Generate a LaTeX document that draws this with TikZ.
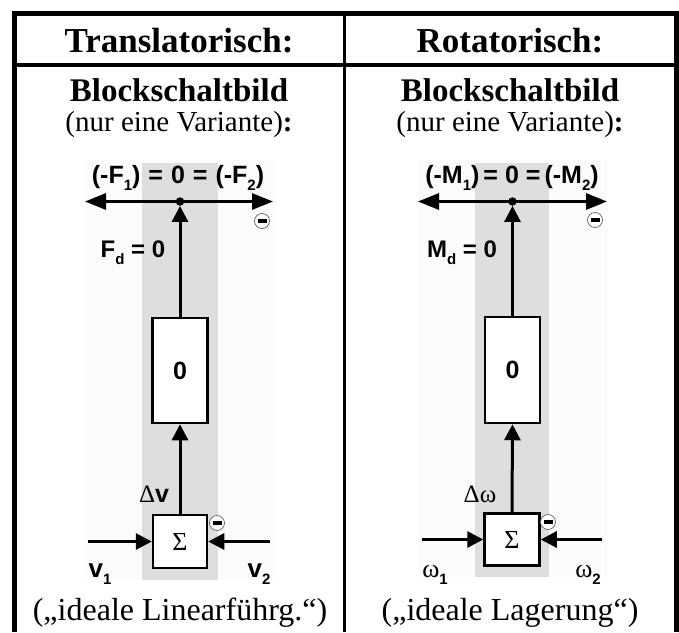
\documentclass[tikz,border=0pt]{standalone}
\usepackage{fontspec}
\setmainfont{Liberation Serif}
\newfontfamily\sansf{Liberation Sans}
\usetikzlibrary{arrows.meta}
\definecolor{bandgray}{RGB}{222,222,222}
\definecolor{faintgray}{RGB}{251,251,251}
\definecolor{ringgray}{RGB}{110,110,110}
\newcommand\lsub[1]{\raisebox{-0.3em}{\fontsize{15}{15}\selectfont #1}}
\tikzset{
  frame/.style={line width=#1},
  arrH/.style={line width=3pt,-{Triangle[length=21pt,width=16pt]}},
  arrV/.style={line width=3pt,-{Triangle[length=16pt,width=16pt]}},
  blk/.style={draw,line width=2.5pt,fill=white,inner sep=0pt,font=\sansf\bfseries\fontsize{25}{25}\selectfont},
  sumbox/.style={draw,line width=2.5pt,fill=white,inner sep=0pt,font=\fontsize{26}{26}\selectfont},
  lab/.style={inner sep=0pt,font=\sansf\bfseries\fontsize{#1}{#1}\selectfont},
  lab/.default=23,
  neg/.style={circle,draw=ringgray,line width=0.8pt,fill=white,minimum size=15pt,inner sep=0pt,
    path picture={\fill[black] ([xshift=-4.5pt,yshift=-1.6pt]path picture bounding box.center) rectangle ++(9pt,3.2pt);}},
  dotn/.style={circle,fill,minimum size=8.5pt,inner sep=0pt},
  headtxt/.style={inner sep=0pt,anchor=base,font=\bfseries\fontsize{#1}{#1}\selectfont},
  bodytxt/.style={inner sep=0pt,anchor=base,font=\fontsize{#1}{#1}\selectfont},
}
\begin{document}
\begin{tikzpicture}[x=1pt,y=-1pt]
\useasboundingbox (0,0) rectangle (679,632);
% ---------- backgrounds ----------
\fill[faintgray] (85,160) rectangle (275,580);
\fill[bandgray] (142,163) rectangle (218,580);
\fill[faintgray] (418,160) rectangle (607,577);
\fill[bandgray] (475,163) rectangle (549,577);
% ---------- table ----------
\draw[frame=5pt] (14.5,632) -- (14.5,13.5) -- (676,13.5) -- (676,632);
\draw[frame=4pt] (14.5,65) -- (676,65);
\draw[frame=3pt] (344,13.5) -- (344,632);
% ---------- header texts ----------
\node[headtxt=35] (hL) at (179,52) {Translatorisch:};
\node[headtxt=35] (hR) at (510,52) {Rotatorisch:};
\node[headtxt=33] (bL) at (179,101) {Blockschaltbild};
\node[headtxt=33] (bR) at (510,101) {Blockschaltbild};
\node[bodytxt=29] (vL) at (179,131) {(nur eine Variante)\textbf{:}};
\node[bodytxt=29] (vR) at (510,131) {(nur eine Variante)\textbf{:}};
\node[bodytxt=32] (fL) at (180,620) {(„ideale Linearführg.“)};
\node[bodytxt=32] (fR) at (510,620) {(„ideale Lagerung“)};
% ================= left panel =================
\node[dotn] (dotL) at (180,201.5) {};
\coordinate (tipLa) at (85,201.5);
\coordinate (tipLb) at (273,201.5);
\draw[arrH] (dotL.center) -- (tipLa);
\draw[arrH] (dotL.center) -- (tipLb);
\node[lab=25,anchor=base] (topLabL) at (178,183) {(-F\lsub{1})\hspace{8pt}=\hspace{8pt}0\hspace{8pt}=\hspace{8pt}(-F\lsub{2})};
\node[neg] (negTL) at (262,221) {};
\node[lab=24,anchor=base] (fdL) at (133,257) {F\lsub{d} = 0};
\node[blk,minimum width=55pt,minimum height=105pt] (blkL) at (180,370.5) {0};
\node[sumbox,minimum width=54pt,minimum height=53pt] (sumL) at (180,541.5) {Σ};
\draw[arrV] (blkL.north) -- (dotL);
\draw[arrV] (sumL.north) -- (blkL.south);
\coordinate (inLa) at (88,541.5);
\coordinate (inLb) at (270,541.5);
\draw[arrV] (inLa) -- (sumL.west);
\draw[arrV] (inLb) -- (sumL.east);
\node[neg] (negSL) at (217,523) {};
\node[lab=25,anchor=base] (dvL) at (154,502) {{\rmfamily\mdseries Δ}v};
\node[lab=26,anchor=base] (v1) at (100,577) {v\lsub{1}};
\node[lab=26,anchor=base] (v2) at (259,577) {v\lsub{2}};
% ================= right panel =================
\node[dotn] (dotR) at (512.5,201.5) {};
\coordinate (tipRa) at (418,201.5);
\coordinate (tipRb) at (607,201.5);
\draw[arrH] (dotR.center) -- (tipRa);
\draw[arrH] (dotR.center) -- (tipRb);
\node[lab=25,anchor=base] (topLabR) at (512,183) {(-M\lsub{1})\hspace{4pt}=\hspace{7pt}0\hspace{7pt}=\hspace{4pt}(-M\lsub{2})};
\node[neg] (negTR) at (595,220) {};
\node[lab=24,anchor=base] (mdR) at (462,257) {M\lsub{d} = 0};
\node[blk,minimum width=55pt,minimum height=106pt] (blkR) at (512.5,370) {0};
\node[sumbox,minimum width=55pt,minimum height=52pt] (sumR) at (512,539.5) {Σ};
\draw[arrV] (blkR.north) -- (dotR);
\draw[arrV] (sumR.north) -- (blkR.south);
\coordinate (inRa) at (422,539.5);
\coordinate (inRb) at (602,539.5);
\draw[arrV] (inRa) -- (sumR.west);
\draw[arrV] (inRb) -- (sumR.east);
\node[neg] (negSR) at (548,522) {};
\node[lab=25,anchor=base] (dwR) at (480,502) {{\rmfamily\mdseries Δω}};
\node[lab=26,anchor=base] (w1) at (435,577) {{\rmfamily\mdseries ω}\lsub{1}};
\node[lab=26,anchor=base] (w2) at (588,577) {{\rmfamily\mdseries ω}\lsub{2}};
\end{tikzpicture}
\end{document}
